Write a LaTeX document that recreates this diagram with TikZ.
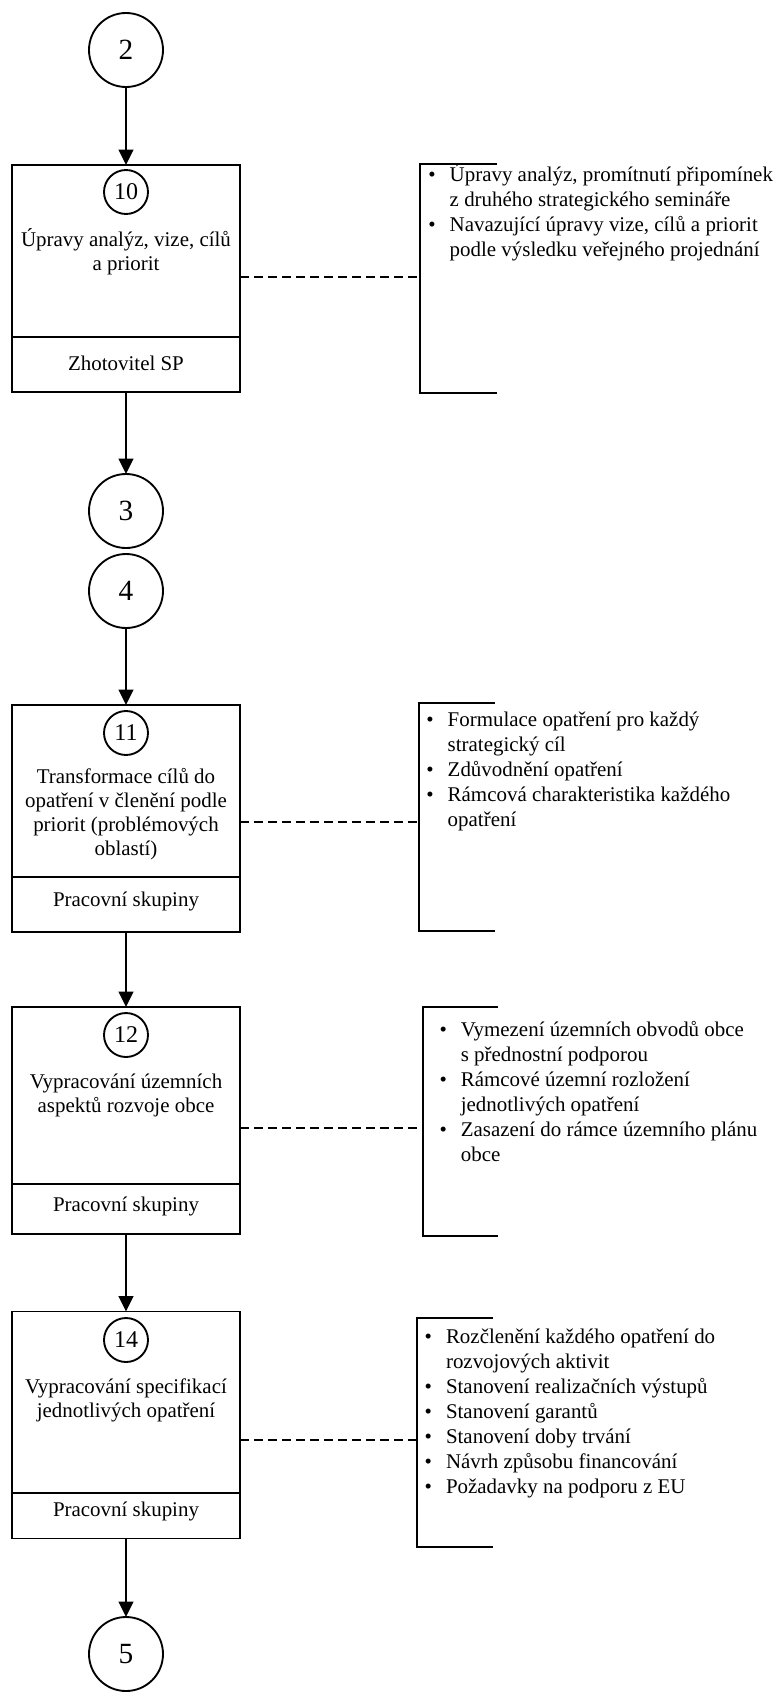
\documentclass[tikz,border=0pt]{standalone}
\usepackage{fontspec}
\setmainfont{Liberation Serif}
\usetikzlibrary{arrows.meta}

% centred and left-aligned line stacks; the baseline is that of the first line
\newcommand\stackc[1]{\vtop{\halign{\hfil##\hfil\cr#1\crcr}}}
\newcommand\stackl[1]{\vtop{\halign{##\hfil\cr#1\crcr}}}
\newcommand\bul{\hbox to 16pt{\textbullet\hfil}}
\newcommand\ind{\hbox to 16pt{}}

\begin{document}
\begin{tikzpicture}[x=0.75pt,y=-0.75pt,
  every node/.style={inner sep=0pt, outer sep=0pt},
  ln/.style={line width=1.4pt},
  bigcirc/.style={circle, draw, ln, minimum size=55.5pt, font=\fontsize{22}{24}\selectfont},
  numcirc/.style={circle, draw, ln, minimum size=33pt, font=\fontsize{18}{20}\selectfont},
  stepbox/.style={rectangle, draw, ln, minimum width=171pt, minimum height=170.25pt},
  body/.style={font=\fontsize{15.7}{18}\selectfont},
  listtext/.style={font=\fontsize{15.7}{18.75}\selectfont, anchor=base west},
  boxtext/.style={body, anchor=base},
  arr/.style={ln, -{Triangle[width=11pt,length=11.5pt]}},
  link/.style={ln, dash pattern=on 6.5pt off 4pt},
  bracket/.style={line width=1.7pt},
]
\useasboundingbox (0,0) rectangle (783,1692);

% connector circles
\node[bigcirc] (c2) at (126,50) {2};
\node[bigcirc] (c3) at (126,511) {3};
\node[bigcirc] (c4) at (126,591) {4};
\node[bigcirc] (c5) at (126,1654) {5};

% step 10
\node[stepbox] (b10) at (126,278.5) {};
\draw[ln] (b10.west |- 0,337) -- (b10.east |- 0,337);
\node[numcirc] (n10) at (126,192) {10};
\node[boxtext] (t10) at (126,246) {\stackc{Úpravy analýz, vize, cílů\cr a priorit}};
\node[boxtext] (r10) at (126,370) {Zhotovitel SP};

% step 11
\node[stepbox] (b11) at (126,818.5) {};
\draw[ln] (b11.west |- 0,877) -- (b11.east |- 0,877);
\node[numcirc] (n11) at (126,733) {11};
\node[boxtext] (t11) at (126,783) {\stackc{Transformace cílů do\cr opatření v členění podle\cr priorit (problémových\cr oblastí)}};
\node[boxtext] (r11) at (126,906.5) {Pracovní skupiny};

% step 12
\node[stepbox] (b12) at (126,1120.5) {};
\draw[ln] (b12.west |- 0,1184) -- (b12.east |- 0,1184);
\node[numcirc] (n12) at (126,1035) {12};
\node[boxtext] (t12) at (126,1088) {\stackc{Vypracování územních\cr aspektů rozvoje obce}};
\node[boxtext] (r12) at (126,1211.5) {Pracovní skupiny};

% step 14
\node[stepbox] (b14) at (126,1425) {};
\draw[ln] (b14.west |- 0,1492.7) -- (b14.east |- 0,1492.7);
\node[numcirc] (n14) at (126,1340) {14};
\node[boxtext] (t14) at (126,1393) {\stackc{Vypracování specifikací\cr jednotlivých opatření}};
\node[boxtext] (r14) at (126,1516.5) {Pracovní skupiny};

% flow
\draw[arr] (c2) -- (b10);
\draw[arr] (b10) -- (c3);
\draw[arr] (c4) -- (b11);
\draw[arr] (b11) -- (b12);
\draw[arr] (b12) -- (b14);
\draw[arr] (b14) -- (c5);

% annotation brackets
\draw[bracket] (497,164) -- (420,164) -- (420,393) -- (497,393);
\draw[bracket] (495,702.7) -- (419.3,702.7) -- (419.3,931) -- (495,931);
\draw[bracket] (498,1006.7) -- (423.3,1006.7) -- (423.3,1236) -- (498,1236);
\draw[bracket] (493,1318) -- (417.3,1318) -- (417.3,1546.7) -- (493,1546.7);

\coordinate (k10) at (420,277);
\coordinate (k11) at (419.3,821.7);
\coordinate (k12) at (423.3,1128.3);
\coordinate (k14) at (417.3,1440);
\draw[link] (b10.east |- k10) -- (k10);
\draw[link] (b11.east |- k11) -- (k11);
\draw[link] (b12.east |- k12) -- (k12);
\draw[link] (b14.east |- k14) -- (k14);

% annotation texts
\node[listtext] (l10) at (428.4,181) {\stackl{%
  \bul Úpravy analýz, promítnutí připomínek\cr
  \ind z druhého strategického semináře\cr
  \bul Navazující úpravy vize, cílů a priorit\cr
  \ind podle výsledku veřejného projednání}};
\node[listtext] (l11) at (426.4,726.7) {\stackl{%
  \bul Formulace opatření pro každý\cr
  \ind strategický cíl\cr
  \bul Zdůvodnění opatření\cr
  \bul Rámcová charakteristika každého\cr
  \ind opatření}};
\node[listtext] (l12) at (439.5,1036.7) {\stackl{%
  \bul Vymezení územních obvodů obce\cr
  \ind s přednostní podporou\cr
  \bul Rámcové územní rozložení\cr
  \ind jednotlivých opatření\cr
  \bul Zasazení do rámce územního plánu\cr
  \ind obce}};
\node[listtext] (l14) at (424.7,1343.3) {\stackl{%
  \bul Rozčlenění každého opatření do\cr
  \ind rozvojových aktivit\cr
  \bul Stanovení realizačních výstupů\cr
  \bul Stanovení garantů\cr
  \bul Stanovení doby trvání\cr
  \bul Návrh způsobu financování\cr
  \bul Požadavky na podporu z EU}};
\end{tikzpicture}
\end{document}
